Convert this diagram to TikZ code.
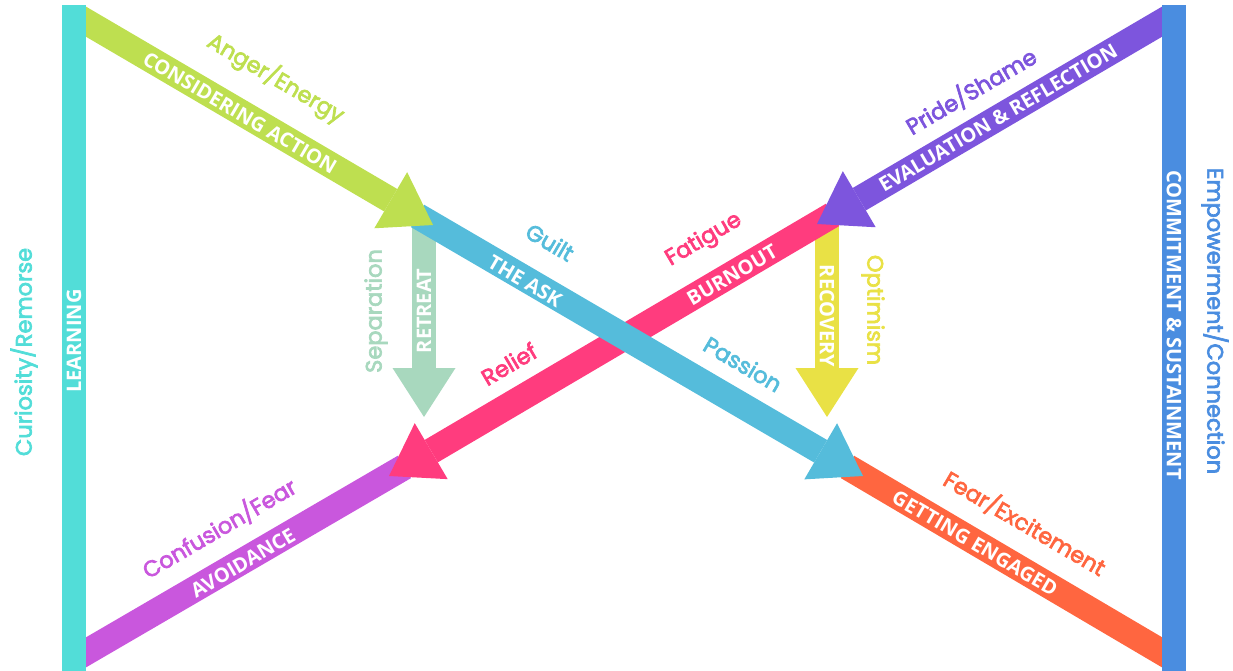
\documentclass[tikz,border=0pt]{standalone}
\usepackage{fontspec}
\setsansfont{Poppins}[FakeBold=3]
\newfontfamily\capfont{Open Sans}
\usepackage{tkz-euclide}
\usetikzlibrary{arrows.meta,calc}
\definecolor{cLearn}{RGB}{82,221,216}
\definecolor{cCommit}{RGB}{74,141,224}
\definecolor{cAction}{RGB}{190,223,80}
\definecolor{cAsk}{RGB}{85,188,219}
\definecolor{cEngage}{RGB}{255,102,64}
\definecolor{cEval}{RGB}{125,85,221}
\definecolor{cBurn}{RGB}{255,60,126}
\definecolor{cAvoid}{RGB}{201,87,221}
\definecolor{cRetreat}{RGB}{168,216,190}
\definecolor{cRecover}{RGB}{233,225,69}
\tikzset{
    band/.style={line width=26pt},
    head/.style={-{Triangle[length=49pt,width=65pt,line width=0pt]}},
    drop/.style={line width=24pt,-{Triangle[length=49pt,width=63pt,line width=0pt]}},
    feel/.style={font=\sffamily\fontsize{22.5}{22.5}\selectfont,inner sep=0pt},
    tag/.style={font=\capfont\bfseries\fontsize{20}{20}\selectfont,text=white,inner sep=0pt}
}

\begin{document}
\begin{tikzpicture}[x=1pt,y=-1pt]
        \useasboundingbox (0,0) rectangle (1233,671);
        \tkzDefPoint(78,17){A}
        \tkzDefPoint(433,225){G}
        \tkzDefPoint(863,476){S}
        \tkzDefPoint(1170,657){E}
        \tkzDefPoint(1170,17){P}
        \tkzDefPoint(817,224){V}
        \tkzDefPoint(389,476){K}
        \tkzDefPoint(78,657){M}
        \tkzDefPoint(424,225){R}
        \tkzDefPoint(424,417){T}
        \tkzDefPoint(827,225){Y}
        \tkzDefPoint(827,417){O}
        \draw[band,cAvoid] ($(K)!18pt!(V)$) -- (M);
        \draw[band,cEngage] ($(S)!18pt!(G)$) -- (E);
        \draw[drop,cRetreat] (R) -- (T);
        \draw[drop,cRecover] (Y) -- (O);
        \draw[band,head,cBurn] ($(V)!18pt!(P)$) -- (K);
        \draw[band,head,cAsk] ($(G)!18pt!(A)$) -- (S);
        \draw[band,head,cAction] (A) -- (G);
        \draw[band,head,cEval] (P) -- (V);
        \fill[cLearn] (62,5) rectangle (86,672);
        \fill[cCommit] (1162,5) rectangle (1186,672);
        \node[feel,text=cLearn,rotate=90] (curiosity) at (24,352) {Curiosity/Remorse};
        \node[tag,rotate=90] (learning) at (74,341) {LEARNING};
        \node[feel,text=cCommit,rotate=-90] (empower) at (1215,321) {Empowerment/Connection};
        \node[tag,rotate=-90] (commit) at (1174,325) {COMMITMENT \& SUSTAINMENT};
        \node[feel,text=cAction,rotate=-30.35] (anger) at (276,78) {Anger/Energy};
        \node[tag,rotate=-30.35] (action) at (240,113) {CONSIDERING ACTION};
        \node[feel,text=cAsk,rotate=-30.35] (guilt) at (550,242) {Guilt};
        \node[tag,rotate=-30.35] (ask) at (525,281) {THE ASK};
        \node[feel,text=cAsk,rotate=-30.35] (passion) at (743,364) {Passion};
        \node[feel,text=cEngage,rotate=-30.35] (fear) at (1025,523) {Fear/Excitement};
        \node[tag,rotate=-30.35] (engaged) at (975,543) {GETTING ENGAGED};
        \node[feel,text=cEval,rotate=30.35] (pride) at (971,91) {Pride/Shame};
        \node[tag,rotate=30.35] (eval) at (998,118) {EVALUATION \& REFLECTION};
        \node[feel,text=cBurn,rotate=30.35] (fatigue) at (704,240) {Fatigue};
        \node[tag,rotate=30.35] (burnout) at (732,275) {BURNOUT};
        \node[feel,text=cBurn,rotate=30.35] (relief) at (509,364) {Relief};
        \node[feel,text=cAvoid,rotate=30.35] (confusion) at (219,528) {Confusion/Fear};
        \node[tag,rotate=30.35] (avoid) at (243,563) {AVOIDANCE};
        \node[feel,text=cRetreat,rotate=90] (separation) at (376,311) {Separation};
        \node[tag,rotate=90] (retreat) at (424,311) {RETREAT};
        \node[feel,text=cRecover,rotate=-90] (optimism) at (873,310) {Optimism};
        \node[tag,rotate=-90] (recovery) at (827,316) {RECOVERY};
\end{tikzpicture}
\end{document}
